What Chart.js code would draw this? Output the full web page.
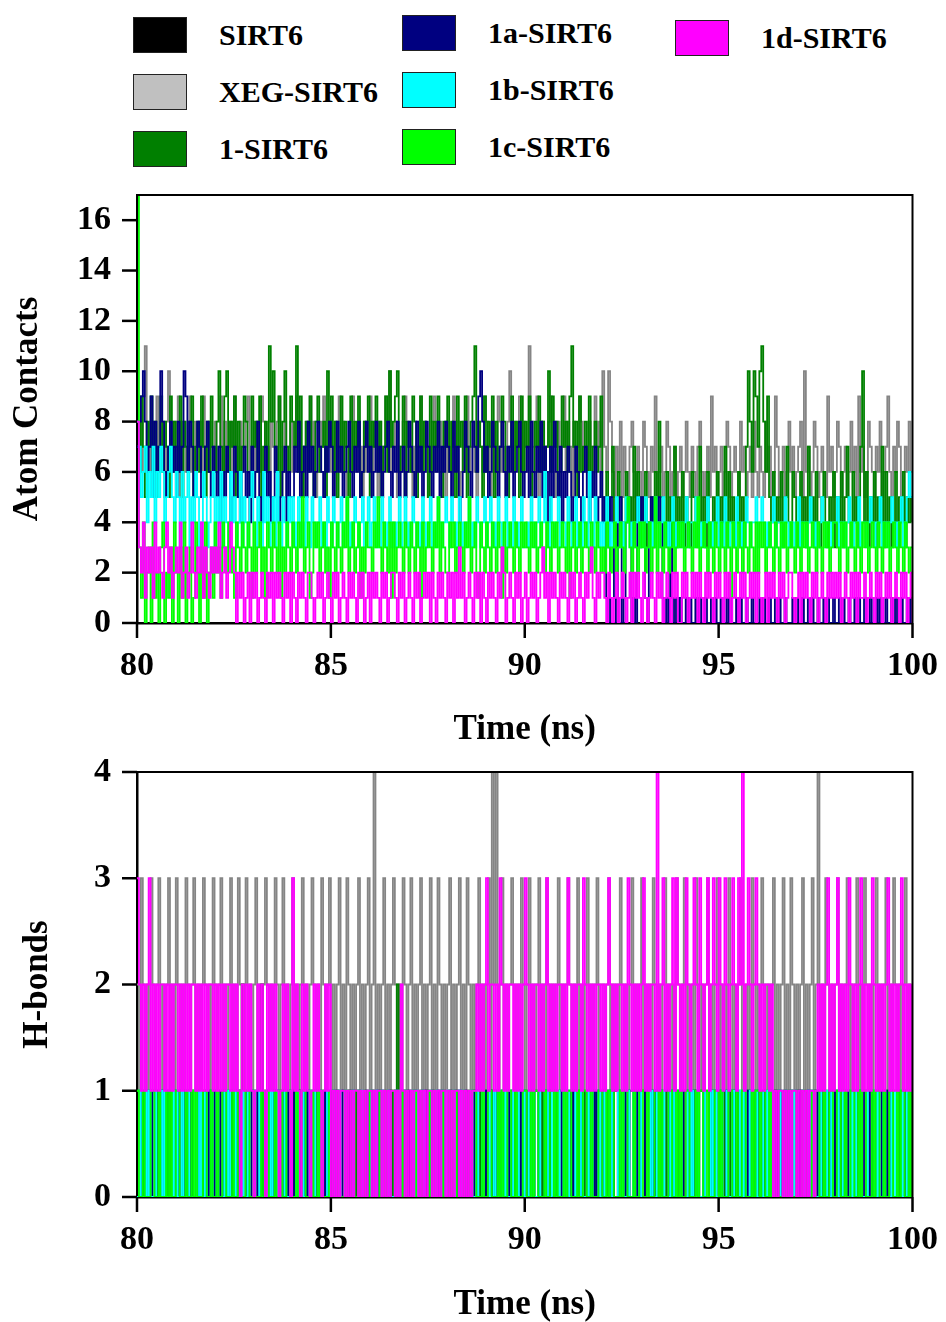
<!DOCTYPE html>
<html>
<head>
<meta charset="utf-8">
<script src="https://cdn.jsdelivr.net/npm/chart.js@4.4.1/dist/chart.umd.min.js"></script>
<style>
  html, body { margin: 0; padding: 0; background: #fff; width: 946px; height: 1322px; overflow: hidden; position: relative;
               font-family: 'Liberation Serif', 'Times New Roman', serif; }
  #legend { position: absolute; left: 0; top: 0; width: 946px; height: 180px; }
  .item { position: absolute; display: flex; align-items: center; font-weight: bold; font-size: 30px; color: #000; }
  .sw { width: 52px; height: 34px; border: 1.5px solid #222; margin-right: 32px; }
  canvas { position: absolute; left: 0; }
</style>
</head>
<body>
<div id="legend"></div>
<canvas id="contactsChart" width="946" height="597" style="top:163px"></canvas>
<canvas id="hbondsChart" width="946" height="582" style="top:740px"></canvas>
<script>
// series, in the order the legend lists them
const seriesNames = ['SIRT6', 'XEG-SIRT6', '1-SIRT6', '1a-SIRT6', '1b-SIRT6', '1c-SIRT6', '1d-SIRT6'];
const lineColors = ['#000000', '#858585', '#008000', '#000080', '#00ffff', '#00ff00', '#ff00ff'];
const swatchColors = ['#000000', '#c0c0c0', '#007f00', '#000080', '#00ffff', '#00ff00', '#ff00ff'];

// frames from 80 ns to 100 ns, one every 0.05 ns (401 values per series, 40 per row = 2 ns)
const startTime = 80;
const frameStep = 0.05;

// ---- Atom contacts ----
const contactsSirt6 = [
  0,0,0,0,0,0,0,0,0,0,0,0,0,0,0,0,0,0,0,0,0,0,0,0,0,0,0,0,0,0,0,0,0,0,0,0,0,0,0,0,
  0,0,0,0,0,0,0,0,0,0,0,0,0,0,0,0,0,0,0,0,0,0,0,0,0,0,0,0,0,0,0,0,0,0,0,0,0,0,0,0,
  0,0,0,0,0,0,0,0,0,0,0,0,0,0,0,0,0,0,0,0,0,0,0,0,0,0,0,0,0,0,0,0,0,0,0,0,0,0,0,0,
  0,0,0,0,0,0,0,0,0,0,0,0,0,0,0,0,0,0,0,0,0,0,0,0,0,0,0,0,0,0,0,0,0,0,0,0,0,0,0,0,
  0,0,0,0,0,0,0,0,0,0,0,0,0,0,0,0,0,0,0,0,0,0,0,0,0,0,0,0,0,0,0,0,0,0,0,0,0,0,0,0,
  0,0,0,0,0,0,0,0,0,0,0,0,0,0,0,0,0,0,0,0,0,0,0,0,0,0,0,0,0,0,0,0,0,0,0,0,0,0,0,0,
  0,0,0,0,0,0,0,0,0,0,0,0,0,0,0,0,0,0,0,0,0,0,0,0,0,0,0,0,0,0,0,0,0,0,0,0,0,0,0,0,
  0,0,0,0,0,0,0,0,0,0,0,0,0,0,0,0,0,0,0,0,0,0,0,0,0,0,0,0,0,0,0,0,0,0,0,0,0,0,0,0,
  0,0,0,0,0,0,0,0,0,0,0,0,0,0,0,0,0,0,0,0,0,0,0,0,0,0,0,0,0,0,0,0,0,0,0,0,0,0,0,0,
  0,0,0,0,0,0,0,0,0,0,0,0,0,0,0,0,0,0,0,0,0,0,0,0,0,0,0,0,0,0,0,0,0,0,0,0,0,0,0,0,
  0];
const contactsXeg = [
  7,8,6,9,11,7,6,8,5,7,9,6,8,7,5,8,10,6,7,8,6,9,5,7,8,6,7,9,6,8,5,7,8,6,9,7,6,8,7,5,
  8,6,7,9,5,8,6,7,8,6,9,7,5,8,6,7,8,9,6,7,5,8,7,6,9,8,6,7,5,8,7,6,8,9,7,6,8,5,7,8,
  6,7,9,8,6,5,7,8,6,9,7,8,5,6,8,7,9,6,7,8,6,5,8,7,9,6,8,7,5,6,8,9,7,6,8,7,5,8,6,7,
  9,6,8,7,5,8,6,7,9,8,10,6,7,8,5,7,6,8,9,7,6,8,5,7,8,6,9,7,8,6,5,7,8,9,6,7,8,6,7,5,
  8,7,6,9,7,8,5,6,8,7,9,6,7,8,6,5,8,7,6,9,8,7,5,8,6,7,9,8,6,7,5,8,10,7,6,8,7,9,6,8,
  7,6,11,8,7,6,9,5,7,8,6,7,8,9,6,5,7,8,6,7,9,6,8,7,5,8,6,7,9,8,6,7,5,8,7,6,9,7,8,6,
  10,7,6,10,8,6,5,7,6,8,5,7,6,5,7,8,6,5,7,6,5,8,7,6,5,7,6,9,5,6,7,5,6,8,7,5,6,7,5,6,
  7,5,6,8,6,5,7,6,5,7,8,6,5,6,7,5,9,6,7,5,6,7,5,6,8,7,5,6,7,6,5,8,6,7,5,6,7,5,8,6,
  5,7,6,5,8,6,7,5,6,9,7,5,6,7,5,6,8,6,7,5,6,7,8,5,10,6,7,5,6,8,7,5,6,7,6,5,9,6,7,5,
  6,8,7,5,6,7,5,6,8,6,7,5,9,6,7,5,6,8,7,6,5,7,6,8,5,6,7,9,6,5,7,6,8,7,5,6,7,6,8,6,
  6];
const contacts1 = [
  8,6,9,7,5,8,7,9,6,8,5,7,9,6,8,7,5,9,6,8,7,6,9,5,8,7,6,8,9,5,7,8,6,9,7,5,8,6,9,7,
  6,8,10,7,5,9,10,6,8,7,9,5,8,6,7,9,8,6,5,9,7,8,6,9,5,7,8,6,11,8,10,7,6,9,5,8,10,7,6,9,
  8,7,11,6,9,5,7,8,6,9,7,5,8,9,6,7,8,5,10,7,9,6,8,5,7,9,6,8,7,5,9,6,8,7,9,5,6,8,7,9,
  5,8,7,9,6,8,5,7,9,6,10,7,8,9,10,6,7,9,5,8,7,6,9,8,5,7,9,6,8,7,5,9,6,8,7,9,6,5,8,7,
  9,6,8,7,5,9,7,8,6,9,5,7,8,9,11,6,8,7,5,9,6,8,7,9,5,8,6,7,9,8,6,5,7,9,6,8,7,5,9,6,
  8,7,9,5,6,8,7,9,6,8,5,7,10,6,9,7,8,5,6,9,7,8,6,9,11,7,8,5,9,6,7,8,6,9,5,7,8,6,7,9,
  5,4,6,3,5,7,4,3,6,5,4,3,6,4,5,3,7,4,6,3,5,4,6,3,4,5,3,6,4,8,5,3,4,6,3,5,4,7,3,5,
  4,6,3,5,4,3,6,5,4,3,7,4,5,3,6,4,3,5,4,6,3,5,4,7,3,6,4,5,3,4,6,3,5,4,7,10,8,6,10,9,
  7,10,11,8,6,9,5,4,6,3,5,4,6,3,5,7,4,3,6,5,4,3,6,4,5,3,7,4,5,3,6,4,3,5,6,4,3,5,4,6,
  3,5,4,6,3,5,7,4,3,6,4,5,3,7,10,4,6,3,5,4,6,3,5,4,7,3,6,4,5,3,4,6,3,5,4,6,3,5,4,5,
  4];
const contactsA = [
  7,8,9,10,8,6,7,9,5,8,6,7,10,8,6,5,7,8,6,7,5,8,6,7,10,9,6,8,7,5,6,8,7,5,6,7,8,6,5,7,
  6,5,7,4,6,5,7,6,4,5,7,6,5,4,6,7,5,6,4,7,5,6,8,5,4,6,7,5,6,4,5,7,6,4,5,6,7,4,6,5,
  5,7,6,8,5,6,7,5,8,6,7,5,6,8,7,6,5,7,6,8,7,5,6,8,6,7,5,6,7,8,6,5,7,6,8,5,6,7,8,6,
  7,5,6,8,6,7,5,6,7,8,6,5,7,6,8,5,6,7,5,6,8,7,6,5,8,6,7,5,6,8,7,6,5,7,6,8,5,7,6,8,
  7,6,5,8,6,7,4,5,6,8,7,6,5,8,7,6,9,10,8,6,7,5,6,8,7,6,5,7,8,6,5,7,6,8,5,6,7,8,6,5,
  6,7,5,8,6,5,7,6,8,5,7,6,4,7,5,8,6,5,7,4,6,5,7,6,4,5,7,6,5,4,6,7,5,4,6,5,7,4,5,6,
  4,5,1,0,5,4,1,0,4,5,0,1,4,5,4,0,1,0,5,4,5,4,1,0,4,5,4,5,4,5,4,1,0,1,0,4,1,0,1,0,
  1,0,0,1,0,1,0,0,1,0,1,0,0,1,0,0,1,0,1,0,0,1,0,0,1,0,1,0,0,1,0,1,0,0,1,0,0,1,0,0,
  0,1,0,1,0,0,1,0,0,1,0,1,0,0,1,0,0,0,1,0,1,0,0,1,0,0,1,0,1,0,0,1,0,0,1,0,1,0,0,1,
  0,0,1,0,1,0,0,1,0,0,1,0,1,0,0,1,0,0,1,0,0,1,0,1,0,0,1,0,0,1,0,1,0,0,1,0,0,1,0,1,
  0];
const contactsB = [
  8,7,5,6,7,4,6,5,7,4,6,5,7,6,4,5,6,7,5,4,6,5,3,6,4,5,6,3,5,4,6,5,3,4,6,5,3,4,5,6,
  3,5,4,6,3,5,4,3,6,4,5,3,4,6,3,5,4,3,5,6,4,3,5,4,3,6,4,5,3,4,5,3,6,4,3,5,4,3,5,4,
  5,3,4,5,3,4,3,5,4,3,5,4,3,4,5,3,4,3,5,4,3,5,4,3,4,5,3,4,5,3,4,3,5,4,3,4,5,3,4,5,
  3,4,5,3,4,3,5,4,3,4,5,3,4,3,4,5,3,4,5,3,4,3,5,4,3,4,3,5,4,3,4,5,3,4,3,5,4,3,4,5,
  4,3,5,4,3,4,5,3,4,3,4,5,3,4,3,5,4,3,4,5,3,4,5,3,4,3,5,4,3,4,5,3,4,3,5,4,3,4,5,3,
  3,4,3,5,4,3,4,5,3,4,6,4,3,5,4,3,4,5,3,4,4,3,5,4,3,4,5,3,4,3,5,4,3,6,4,3,5,4,3,4,
  3,4,5,3,4,3,4,5,4,3,4,3,5,4,3,4,3,4,5,3,4,3,5,4,3,4,3,5,4,3,4,5,3,4,3,4,5,3,4,3,
  4,3,4,5,3,4,4,3,5,4,3,4,3,4,5,3,4,3,4,5,3,4,3,5,4,3,4,4,3,5,4,3,4,3,5,4,3,4,4,5,
  3,4,5,4,3,4,3,4,5,3,4,4,3,4,5,4,3,4,4,3,4,5,3,4,4,3,4,5,4,3,4,3,4,5,4,3,4,4,3,4,
  4,5,3,4,4,3,4,5,4,3,4,4,5,3,4,4,3,4,5,4,3,4,4,5,3,4,4,3,4,5,4,3,4,4,5,3,4,5,6,5,
  5];
const contactsC = [
  17,3,1,4,0,2,3,0,4,1,2,0,3,4,0,2,1,3,0,4,2,0,3,1,4,0,2,3,0,1,4,2,0,3,1,4,0,2,3,1,
  4,2,3,1,4,3,2,4,3,2,1,4,3,2,4,3,2,4,3,1,4,2,3,4,2,3,1,4,3,2,4,3,2,4,1,3,2,4,3,2,
  4,3,2,4,3,5,2,3,4,1,2,4,3,4,2,3,4,2,3,1,4,3,2,4,3,2,4,3,5,2,3,4,2,3,4,1,3,2,4,3,
  3,2,4,3,5,3,2,4,3,2,4,1,4,2,3,4,3,2,4,3,2,4,3,2,4,3,1,4,2,3,4,3,2,4,3,5,2,4,3,2,
  2,4,3,4,2,3,4,3,2,4,3,5,2,3,4,2,1,4,3,2,4,3,2,4,3,2,4,3,1,4,2,3,4,3,2,4,3,2,4,3,
  4,3,2,4,3,4,2,3,4,3,2,4,3,2,4,3,4,2,3,4,3,2,4,1,3,4,2,3,4,2,3,4,3,2,4,3,2,4,3,2,
  3,2,4,3,2,3,4,2,3,4,3,2,4,5,3,2,4,3,2,4,3,4,2,3,4,2,3,5,2,4,3,2,4,3,2,3,4,2,3,4,
  3,4,2,3,4,3,2,4,3,5,2,3,4,3,2,4,3,2,4,3,2,4,3,2,4,3,1,4,3,2,4,3,2,4,3,2,4,3,2,4,
  2,4,3,4,2,3,4,3,2,4,3,2,4,3,4,2,3,4,3,2,4,3,2,4,3,4,2,3,4,3,2,4,3,2,4,3,4,2,3,4,
  4,3,2,4,3,4,2,3,4,3,2,4,3,2,4,3,4,2,3,4,3,2,4,3,2,4,3,4,2,3,4,3,2,4,3,2,4,3,2,3,
  3];
const contactsD = [
  8,3,2,4,1,3,2,3,1,4,2,3,2,1,3,4,2,3,1,2,3,2,4,1,2,3,1,2,4,2,1,3,2,4,1,3,2,1,3,2,
  3,2,4,1,2,3,1,2,4,3,2,0,2,1,2,0,1,2,0,2,1,2,0,1,2,1,0,2,1,2,0,2,1,2,1,0,2,1,2,0,
  2,1,0,2,1,2,1,0,2,2,1,0,1,2,1,2,0,1,2,1,0,2,1,2,0,1,2,1,0,2,1,2,1,0,2,1,2,0,1,2,
  0,2,1,2,1,0,2,1,2,0,1,2,2,1,0,2,1,2,0,1,2,1,0,2,1,2,0,1,2,1,2,0,2,1,0,2,1,2,1,0,
  2,1,2,0,2,1,3,1,2,0,1,2,1,0,2,1,2,0,2,1,0,2,1,2,1,0,2,1,3,2,0,1,2,1,0,2,1,2,0,1,
  2,0,1,2,1,2,0,1,2,3,1,2,0,2,1,2,1,0,2,1,2,1,0,2,1,2,0,1,2,1,0,2,1,2,3,1,0,2,1,2,
  2,1,0,2,1,0,1,2,0,1,2,1,0,1,2,0,2,1,2,1,0,2,1,0,1,2,1,0,2,1,2,0,1,2,1,0,2,1,2,0,
  0,2,1,2,0,1,2,1,2,0,2,1,0,2,1,2,1,0,2,1,2,1,0,2,1,2,0,1,2,1,0,2,1,2,0,1,2,1,2,0,
  2,1,0,1,2,0,2,1,2,1,0,2,1,2,0,1,2,2,1,0,1,2,0,2,1,2,1,0,2,1,2,0,1,2,1,0,2,1,2,1,
  2,1,2,0,1,2,1,0,2,1,2,0,2,1,1,2,0,1,2,1,0,2,1,2,0,1,2,1,2,0,1,2,1,0,2,1,2,0,1,2,
  0];

// ---- H-bonds ----
const hbondsSirt6 = [
  0,0,0,0,0,0,0,0,0,0,0,0,0,0,0,0,0,0,0,0,0,0,0,0,0,0,0,0,0,0,0,0,0,0,0,0,0,0,0,0,
  0,0,0,0,0,0,0,0,0,0,0,0,0,0,0,0,0,0,0,0,0,0,0,0,0,0,0,0,0,0,0,0,0,0,0,0,0,0,0,0,
  0,0,0,0,0,0,0,0,0,0,0,0,0,0,0,0,0,0,0,0,0,0,0,0,0,0,0,0,0,0,0,0,0,0,0,0,0,0,0,0,
  0,0,0,0,0,0,0,0,0,0,0,0,0,0,0,0,0,0,0,0,0,0,0,0,0,0,0,0,0,0,0,0,0,0,0,0,0,0,0,0,
  0,0,0,0,0,0,0,0,0,0,0,0,0,0,0,0,0,0,0,0,0,0,0,0,0,0,0,0,0,0,0,0,0,0,0,0,0,0,0,0,
  0,0,0,0,0,0,0,0,0,0,0,0,0,0,0,0,0,0,0,0,0,0,0,0,0,0,0,0,0,0,0,0,0,0,0,0,0,0,0,0,
  0,0,0,0,0,0,0,0,0,0,0,0,0,0,0,0,0,0,0,0,0,0,0,0,0,0,0,0,0,0,0,0,0,0,0,0,0,0,0,0,
  0,0,0,0,0,0,0,0,0,0,0,0,0,0,0,0,0,0,0,0,0,0,0,0,0,0,0,0,0,0,0,0,0,0,0,0,0,0,0,0,
  0,0,0,0,0,0,0,0,0,0,0,0,0,0,0,0,0,0,0,0,0,0,0,0,0,0,0,0,0,0,0,0,0,0,0,0,0,0,0,0,
  0,0,0,0,0,0,0,0,0,0,0,0,0,0,0,0,0,0,0,0,0,0,0,0,0,0,0,0,0,0,0,0,0,0,0,0,0,0,0,0,
  0];
const hbondsXeg = [
  2,1,3,2,1,2,1,3,2,1,2,3,1,2,1,2,3,1,2,1,3,2,1,2,1,3,2,1,2,3,1,2,1,2,3,2,1,2,1,3,
  2,1,2,3,1,2,1,2,3,1,2,1,3,2,1,2,3,1,2,1,2,3,1,2,1,2,3,2,1,2,1,3,2,1,2,3,1,2,1,2,
  3,1,2,1,2,3,1,2,1,2,3,2,1,2,1,3,2,1,2,3,1,2,1,2,3,1,2,1,3,2,1,2,1,2,3,1,2,1,2,3,
  1,2,4,1,2,1,2,3,1,2,1,2,3,2,1,2,1,3,2,1,2,3,1,2,1,2,3,1,2,1,2,3,1,2,1,3,2,1,2,1,
  2,3,1,2,1,2,3,1,2,1,3,2,1,2,1,2,3,1,2,1,2,3,1,4,2,4,1,2,3,1,2,1,2,3,2,1,2,1,3,2,
  1,2,3,1,2,1,2,3,1,2,1,3,2,1,2,1,2,3,1,2,1,2,3,2,1,2,1,3,1,2,1,2,3,1,2,1,2,3,1,2,
  2,1,2,3,1,2,1,2,1,3,2,1,2,1,2,3,1,2,1,2,3,1,2,1,2,1,3,2,1,2,1,2,3,1,2,1,2,1,3,2,
  1,2,3,1,2,1,2,1,3,2,1,2,1,2,3,1,2,1,2,3,1,2,1,2,1,3,2,1,2,1,2,3,1,2,1,2,1,3,2,1,
  2,1,3,2,1,2,1,2,3,1,2,1,2,3,1,2,1,3,2,1,2,1,2,3,1,2,1,2,3,1,2,4,1,2,1,3,2,1,2,1,
  2,3,1,2,1,2,3,1,2,1,2,3,1,2,1,3,2,1,2,1,2,3,1,2,1,2,3,1,2,1,3,2,1,2,1,2,3,1,2,1,
  2];
const hbonds1 = [
  1,1,0,1,0,1,1,0,1,1,0,1,0,1,1,0,1,0,1,1,0,1,1,0,1,0,1,1,0,1,1,0,1,0,1,1,0,1,1,0,
  1,0,1,1,0,1,1,0,1,0,1,1,0,1,2,1,0,1,1,0,1,1,0,1,2,0,1,1,0,1,0,1,1,0,1,1,0,1,0,1,
  1,0,1,1,0,1,0,1,1,0,1,1,0,1,0,1,1,0,1,1,0,1,0,1,1,0,1,1,0,1,0,1,1,0,1,1,0,1,0,1,
  1,0,1,1,0,1,0,1,1,0,1,1,0,1,2,0,1,0,1,1,0,1,1,0,1,0,1,1,0,1,1,0,1,1,0,1,0,1,1,0,
  0,1,1,0,1,0,1,1,0,1,1,0,1,0,1,1,0,1,1,0,1,0,1,1,0,1,1,0,1,0,1,1,0,1,1,0,1,0,1,1,
  1,0,1,1,0,1,1,0,1,0,1,1,0,1,1,0,1,0,1,1,0,1,1,0,1,0,1,1,0,1,1,0,1,0,1,1,0,1,1,0,
  0,1,1,0,1,0,1,1,0,1,1,0,1,0,1,1,0,1,1,0,1,1,0,1,0,1,1,0,1,1,0,1,0,1,1,0,1,0,1,1,
  1,0,1,1,0,1,1,0,1,0,1,1,0,1,1,0,1,0,1,1,0,1,1,0,1,0,1,1,0,1,0,1,1,0,1,1,0,1,1,0,
  1,1,0,1,0,1,1,0,1,1,0,1,0,1,1,0,1,0,1,1,0,1,1,0,1,0,1,1,0,1,1,0,1,0,1,1,0,1,0,1,
  0,1,1,0,1,0,1,1,0,1,1,0,1,0,1,1,0,1,1,0,1,0,1,1,0,1,1,0,1,0,1,1,0,1,0,1,1,0,1,1,
  0];
const hbondsA = [
  0,0,1,0,1,0,0,1,0,0,1,0,0,1,0,1,0,0,0,1,0,1,0,0,1,0,1,0,1,0,0,1,0,0,0,1,0,1,0,0,
  1,0,1,0,0,1,0,0,1,0,0,1,0,1,0,0,1,0,0,1,0,0,1,0,1,0,0,1,0,0,1,0,1,0,0,1,0,0,1,0,
  1,0,0,1,0,0,1,0,1,0,0,0,1,0,1,0,0,1,0,0,0,1,0,1,0,0,1,0,0,1,0,1,0,0,1,0,0,0,1,0,
  0,1,0,0,1,0,1,0,0,0,1,0,0,1,0,0,1,0,1,0,1,0,0,1,0,0,0,1,0,1,0,0,1,0,0,1,0,1,0,0,
  0,1,0,0,1,0,1,0,0,1,0,0,0,1,0,1,0,0,1,0,1,0,0,1,0,1,0,0,1,0,0,1,0,1,0,0,0,1,0,1,
  0,0,1,0,1,0,0,1,0,0,1,0,1,0,0,1,0,0,0,1,0,1,0,0,1,0,1,0,0,1,0,0,1,0,0,1,0,1,0,0,
  1,0,0,1,0,1,0,0,1,0,0,1,0,1,0,0,0,1,0,1,0,0,1,0,0,1,0,1,0,0,1,0,0,0,1,0,1,0,0,1,
  0,1,0,0,1,0,0,1,0,1,0,0,1,0,0,0,1,0,1,0,0,1,0,0,1,0,0,1,0,1,0,0,0,1,0,1,0,0,1,0,
  1,0,0,1,0,0,1,0,0,1,0,1,0,0,1,0,0,1,0,0,1,0,1,0,0,0,1,0,0,1,0,1,0,0,1,0,0,1,0,1,
  0,1,0,0,1,0,1,0,0,0,1,0,0,1,0,1,0,0,1,0,0,1,0,0,1,0,1,0,0,1,0,0,1,0,0,0,1,0,1,0,
  1];
const hbondsB = [
  0,1,0,0,1,0,1,0,0,1,0,0,1,0,1,0,0,0,1,0,1,0,0,1,0,0,1,0,0,0,1,0,1,0,0,1,0,0,1,0,
  0,1,0,0,0,1,0,1,0,0,1,0,0,0,1,0,0,1,0,0,1,0,0,1,0,0,0,1,0,1,0,0,1,0,0,0,1,0,0,1,
  0,0,1,0,0,1,0,0,0,1,0,1,0,0,1,0,0,0,1,0,0,1,0,0,1,0,0,1,0,0,0,1,0,0,1,0,1,0,0,0,
  1,0,0,1,0,0,1,0,0,1,0,0,0,1,0,1,0,0,1,0,0,0,1,0,1,0,0,1,0,0,0,1,0,0,1,0,0,1,0,0,
  1,0,0,1,0,0,1,0,1,0,0,0,1,0,0,1,0,0,1,0,0,1,0,0,1,0,0,0,1,0,1,0,0,1,0,0,1,0,0,1,
  0,0,1,0,1,0,0,1,0,0,0,1,0,0,1,0,0,1,0,0,1,0,1,0,0,0,1,0,0,1,0,0,1,0,1,0,0,0,1,0,
  0,1,0,0,1,0,0,0,1,0,1,0,0,1,0,0,1,0,0,1,0,0,0,1,0,1,0,0,1,0,0,1,0,0,0,1,0,1,0,0,
  1,0,0,0,1,0,1,0,0,1,0,0,1,0,0,0,1,0,1,0,0,1,0,0,1,0,0,1,0,0,0,1,0,1,0,0,1,0,0,1,
  0,0,1,0,0,1,0,1,0,0,0,1,0,0,1,0,0,1,0,1,0,0,0,1,0,0,1,0,1,0,0,0,1,0,0,1,0,0,1,0,
  0,1,0,0,1,0,0,0,1,0,1,0,0,1,0,0,1,0,0,0,1,0,1,0,0,1,0,0,0,1,0,1,0,0,1,0,0,1,0,0,
  0];
const hbondsC = [
  1,0,0,1,0,0,0,1,1,0,0,1,0,0,0,1,0,1,0,0,1,1,0,0,0,1,0,0,1,0,1,0,0,0,1,1,0,0,1,0,
  0,1,0,0,1,1,0,0,0,1,0,0,1,0,0,0,1,1,0,0,1,0,0,0,1,0,1,1,0,0,0,1,0,0,1,0,0,1,1,0,
  0,0,1,0,0,1,1,0,0,0,1,0,0,1,0,1,0,0,0,1,1,0,0,1,0,0,0,1,0,1,1,0,0,0,1,0,0,1,0,0,
  1,1,0,0,0,1,0,0,1,0,0,1,1,0,0,0,1,0,1,0,0,0,1,1,0,0,1,0,0,0,1,0,1,1,0,0,0,1,0,0,
  0,1,0,1,1,0,0,0,1,0,0,1,0,1,1,0,0,0,1,0,0,1,1,0,0,0,1,0,1,0,0,1,1,0,0,1,0,0,0,1,
  1,0,0,1,0,1,1,0,0,0,1,0,0,1,1,0,1,0,0,0,1,0,1,1,0,0,0,1,0,0,1,1,0,0,1,0,0,0,1,1,
  0,0,1,0,1,1,0,0,0,1,0,1,1,0,0,0,1,0,0,1,1,0,0,1,0,0,0,1,1,0,1,0,0,0,1,1,0,0,1,0,
  1,0,0,1,1,0,0,0,1,0,1,1,0,0,1,0,0,0,1,1,0,1,0,0,0,1,1,0,0,1,0,0,1,1,0,0,0,1,0,1,
  1,0,1,1,0,0,1,0,0,1,1,0,0,0,1,0,1,1,0,0,1,0,0,1,1,0,0,0,1,0,1,1,0,0,1,0,0,1,1,0,
  0,1,1,0,0,1,0,0,1,1,0,0,1,0,1,1,0,0,0,1,0,1,1,0,0,1,0,0,1,1,0,0,1,0,1,1,0,0,1,0,
  1];
const hbondsD = [
  3,2,1,2,1,2,3,1,2,1,2,1,2,2,1,2,1,2,1,2,2,1,2,1,2,1,2,1,2,2,1,2,1,2,1,2,1,2,2,1,
  2,1,2,1,2,1,2,2,1,2,1,2,1,0,2,1,2,1,2,1,0,1,2,1,2,1,0,2,1,2,1,2,1,0,1,2,1,2,1,0,
  3,1,2,1,0,2,1,2,1,0,1,2,1,2,1,0,1,2,1,2,0,1,0,1,0,1,1,0,1,0,1,0,1,1,0,1,0,1,0,1,
  1,0,1,0,1,1,0,1,0,1,0,1,1,0,1,0,2,1,0,1,0,1,0,1,1,0,1,0,1,0,1,1,0,1,0,1,0,1,1,0,
  1,0,1,0,1,1,0,1,0,1,0,1,0,1,1,2,1,2,1,2,3,1,2,2,1,2,1,3,2,1,2,1,2,2,1,2,1,2,1,2,
  3,2,1,2,1,2,2,1,2,1,2,3,1,2,1,2,1,2,2,1,2,1,3,2,1,2,1,2,2,1,3,2,1,2,1,2,1,2,2,1,
  2,1,2,3,2,1,2,1,2,2,1,2,1,3,2,1,2,1,2,1,2,3,1,2,1,2,2,1,4,1,2,3,1,2,1,2,3,1,3,2,
  1,2,1,3,2,1,2,3,2,1,3,2,1,2,3,1,2,3,2,1,3,2,1,3,2,1,2,3,2,1,3,2,4,1,2,3,2,1,2,3,
  2,1,2,1,2,2,1,2,0,1,0,1,1,0,1,0,1,0,1,1,0,1,0,1,0,1,0,1,1,0,1,2,1,2,1,2,3,1,2,1,
  2,3,1,2,1,2,1,3,2,1,2,1,2,3,1,2,1,2,1,3,2,1,2,1,2,1,2,3,1,2,1,2,1,2,3,1,2,1,2,1,
  2];

const contactsSeries = [contactsSirt6, contactsXeg, contacts1, contactsA, contactsB, contactsC, contactsD];
const hbondsSeries = [hbondsSirt6, hbondsXeg, hbonds1, hbondsA, hbondsB, hbondsC, hbondsD];

// legend (three columns, filled top to bottom)
const legendEl = document.getElementById('legend');
const colLeft = [133, 402, 675];
const colTop = [17, 15, 20];
seriesNames.forEach((name, i) => {
    const col = Math.floor(i / 3), row = i % 3;
    const item = document.createElement('div');
    item.className = 'item';
    item.style.left = colLeft[col] + 'px';
    item.style.top = (colTop[col] + row * 57) + 'px';
    item.innerHTML = '<div class="sw" style="background:' + swatchColors[i] + '"></div><span>' + name + '</span>';
    legendEl.appendChild(item);
});

const tickFont = { family: "'Liberation Serif', serif", weight: 'bold', size: 34 };
const titleFont = { family: "'Liberation Serif', serif", weight: 'bold', size: 35, lineHeight: 1 };

// top/right frame plus long (labelled) and short (unlabelled) tick marks
const frameTicks = {
    id: 'frameTicks',
    afterDraw(chart) {
        const { ctx, chartArea: a, scales } = chart;
        ctx.save();
        ctx.strokeStyle = '#000';
        ctx.lineWidth = 2;
        ctx.beginPath();
        ctx.moveTo(a.left, a.top);
        ctx.lineTo(a.right, a.top);
        ctx.lineTo(a.right, a.bottom);
        ctx.stroke();
        ctx.lineWidth = 2.5;
        scales.x.ticks.forEach(t => {
            const px = scales.x.getPixelForValue(t.value);
            const len = t.label != null ? 15 : 8;
            ctx.beginPath();
            ctx.moveTo(px, a.bottom);
            ctx.lineTo(px, a.bottom + len);
            ctx.stroke();
        });
        scales.y.ticks.forEach(t => {
            const py = scales.y.getPixelForValue(t.value);
            const len = t.label != null ? 15 : 8;
            ctx.beginPath();
            ctx.moveTo(a.left, py);
            ctx.lineTo(a.left - len, py);
            ctx.stroke();
        });
        ctx.restore();
    }
};

function buildDatasets(seriesValues) {
    return seriesNames.map((name, i) => ({
        label: name,
        data: seriesValues[i].map((v, k) => ({ x: +(startTime + k * frameStep).toFixed(2), y: v })),
        borderColor: lineColors[i],
        borderWidth: 1.8,
        stepped: true,
        pointRadius: 0,
        fill: false,
        order: seriesNames.length - 1 - i
    }));
}

function makeChart(canvasId, seriesValues, cfg) {
    return new Chart(document.getElementById(canvasId), {
        type: 'line',
        data: { datasets: buildDatasets(seriesValues) },
        plugins: [frameTicks],
        options: {
            responsive: false,
            devicePixelRatio: 1,
            animation: false,
            events: [],
            layout: { padding: cfg.padding },
            plugins: { legend: { display: false }, tooltip: { enabled: false } },
            scales: {
                x: {
                    type: 'linear', min: 80, max: 100,
                    border: { display: true, color: '#000', width: 2.5 },
                    grid: { drawOnChartArea: false, color: 'transparent', tickLength: 15 },
                    ticks: {
                        stepSize: 2.5, autoSkip: false, maxRotation: 0, padding: 8, color: '#000', font: tickFont,
                        callback: v => (v % 5 === 0 ? String(v) : null)
                    },
                    title: { display: true, text: 'Time (ns)', color: '#000', font: titleFont, padding: { top: 0, bottom: 0 } },
                    afterFit: s => { s.height = cfg.xHeight; }
                },
                y: {
                    type: 'linear', min: 0, max: cfg.yMax,
                    border: { display: true, color: '#000', width: 2.5 },
                    grid: { drawOnChartArea: false, color: 'transparent', tickLength: 15 },
                    ticks: {
                        stepSize: cfg.yStep, autoSkip: false, padding: 11, color: '#000', font: tickFont,
                        callback: cfg.yLabel
                    },
                    title: { display: true, text: cfg.yTitle, color: '#000', font: titleFont, padding: { top: cfg.yTitlePad, bottom: 0 } },
                    afterFit: s => { s.width = 137; }
                }
            }
        }
    });
}

makeChart('contactsChart', contactsSeries, {
    padding: { top: 32, right: 29, bottom: 12.5, left: 0 },
    xHeight: 124.5,
    yMax: 17, yStep: 1,
    yLabel: v => (v % 2 === 0 && v <= 16 ? String(v) : null),
    yTitle: 'Atom Contacts', yTitlePad: 10.5
});

makeChart('hbondsChart', hbondsSeries, {
    padding: { top: 32, right: 29, bottom: 0, left: 0 },
    xHeight: 125,
    yMax: 4, yStep: 0.5,
    yLabel: v => (Number.isInteger(v) ? String(v) : null),
    yTitle: 'H-bonds', yTitlePad: 20.5
});
</script>
</body>
</html>
